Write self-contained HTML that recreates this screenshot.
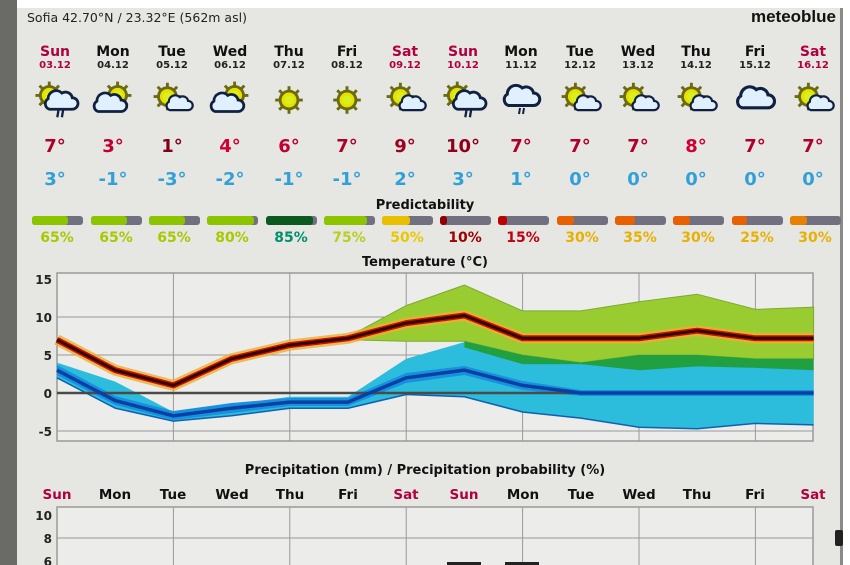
<!DOCTYPE html>
<html><head><meta charset="utf-8"><style>
html,body{margin:0;padding:0;background:#fff;}
svg{display:block;font-family:"DejaVu Sans","Liberation Sans",sans-serif;}
</style></head><body>
<svg width="850" height="565" viewBox="0 0 850 565" xmlns="http://www.w3.org/2000/svg">
<defs>
<g id="sun"><circle r="9" fill="#6a6a10"/><g stroke="#6a6a10" stroke-width="2.5"><line x1="-12" y1="0" x2="12" y2="0"/><line x1="0" y1="-12" x2="0" y2="12"/><line x1="-8.5" y1="-8.5" x2="8.5" y2="8.5"/><line x1="-8.5" y1="8.5" x2="8.5" y2="-8.5"/></g><circle r="6.5" fill="#e8e000"/><circle r="4" fill="#d8f020"/></g>
<g id="cloud"><path d="M-10,6 h20 a5,5 0 0 0 0,-10 a6,6 0 0 0 -9,-4 a7,7 0 0 0 -12,5 a5,5 0 0 0 1,9z" fill="#e0f0ff" stroke="#102040" stroke-width="2.4"/></g>
<g id="rain"><line x1="-2" y1="7" x2="-3" y2="13" stroke="#102040" stroke-width="2"/><line x1="2" y1="7" x2="1" y2="13" stroke="#102040" stroke-width="2"/></g>
<g id="sc0"><use href="#sun" transform="translate(-4,-3)"/><use href="#cloud" transform="translate(6,4) scale(0.8)"/></g>
<g id="sbc0"><use href="#sun" transform="translate(4,-4)"/><use href="#cloud" transform="translate(-3,4)"/></g>
<g id="scr0"><use href="#sun" transform="translate(-5,-4)"/><use href="#cloud" transform="translate(5,2)"/><use href="#rain" transform="translate(5,2)"/></g>
<g id="sc"><use href="#sc0" transform="scale(1.15)"/></g>
<g id="sbc"><use href="#sbc0" transform="scale(1.15)"/></g>
<g id="scr"><use href="#scr0" transform="scale(1.15)"/></g>
<g id="sunb"><use href="#sun" transform="scale(1.15)"/></g>
</defs>
<rect width="850" height="565" fill="#e6e6e2"/>
<rect width="850" height="8" fill="#fff"/>
<rect x="0" y="0" width="17" height="565" fill="#6a6a66"/>
<rect x="843" y="8" width="7" height="557" fill="#fff"/>
<rect x="840" y="8" width="3" height="557" fill="#8a8a86"/>
<text x="27" y="22" font-size="12.5" fill="#222">Sofia  42.70°N / 23.32°E (562m asl)</text>
<text x="836" y="22" font-size="17" font-weight="bold" fill="#111" text-anchor="end" font-family="Liberation Sans,sans-serif">meteoblue</text>

<g font-weight="bold" text-anchor="middle">
<g font-size="14">
<text x="55" y="56" fill="#b00040">Sun</text><text x="113" y="56" fill="#111">Mon</text><text x="172" y="56" fill="#111">Tue</text><text x="230" y="56" fill="#111">Wed</text><text x="289" y="56" fill="#111">Thu</text><text x="347" y="56" fill="#111">Fri</text><text x="405" y="56" fill="#b00040">Sat</text><text x="463" y="56" fill="#b00040">Sun</text><text x="521" y="56" fill="#111">Mon</text><text x="580" y="56" fill="#111">Tue</text><text x="638" y="56" fill="#111">Wed</text><text x="696" y="56" fill="#111">Thu</text><text x="755" y="56" fill="#111">Fri</text><text x="813" y="56" fill="#b00040">Sat</text>
</g>
<g font-size="10">
<text x="55" y="68" fill="#b00040">03.12</text><text x="113" y="68" fill="#222">04.12</text><text x="172" y="68" fill="#222">05.12</text><text x="230" y="68" fill="#222">06.12</text><text x="289" y="68" fill="#222">07.12</text><text x="347" y="68" fill="#222">08.12</text><text x="405" y="68" fill="#b00040">09.12</text><text x="463" y="68" fill="#b00040">10.12</text><text x="521" y="68" fill="#222">11.12</text><text x="580" y="68" fill="#222">12.12</text><text x="638" y="68" fill="#222">13.12</text><text x="696" y="68" fill="#222">14.12</text><text x="755" y="68" fill="#222">15.12</text><text x="813" y="68" fill="#b00040">16.12</text>
</g>
<g font-size="18">
<text x="55" y="152" fill="#b0002a">7°</text><text x="113" y="152" fill="#c00030">3°</text><text x="172" y="152" fill="#80001a">1°</text><text x="230" y="152" fill="#d00030">4°</text><text x="289" y="152" fill="#c00030">6°</text><text x="347" y="152" fill="#b0002a">7°</text><text x="405" y="152" fill="#a00020">9°</text><text x="463" y="152" fill="#90001c">10°</text><text x="521" y="152" fill="#b0002a">7°</text><text x="580" y="152" fill="#b0002a">7°</text><text x="638" y="152" fill="#b0002a">7°</text><text x="696" y="152" fill="#d00030">8°</text><text x="755" y="152" fill="#b0002a">7°</text><text x="813" y="152" fill="#b0002a">7°</text>
</g>
<g font-size="18" fill="#30a0d8">
<text x="55" y="185">3°</text><text x="113" y="185">-1°</text><text x="172" y="185">-3°</text><text x="230" y="185">-2°</text><text x="289" y="185">-1°</text><text x="347" y="185">-1°</text><text x="405" y="185">2°</text><text x="463" y="185">3°</text><text x="521" y="185">1°</text><text x="580" y="185">0°</text><text x="638" y="185">0°</text><text x="696" y="185">0°</text><text x="755" y="185">0°</text><text x="813" y="185">0°</text>
</g>
</g>

<use href="#scr" x="55" y="100"/>
<use href="#sbc" x="113" y="100"/>
<use href="#sc" x="172" y="100"/>
<use href="#sbc" x="230" y="100"/>
<use href="#sunb" x="289" y="100"/>
<use href="#sunb" x="347" y="100"/>
<use href="#sc" x="405" y="100"/>
<use href="#scr" x="463" y="100"/>
<g transform="translate(521,100)"><use href="#cloud" transform="translate(0,-2) scale(1.25)"/><use href="#rain" transform="translate(1,1)"/></g>
<use href="#sc" x="580" y="100"/>
<use href="#sc" x="638" y="100"/>
<use href="#sc" x="696" y="100"/>
<g transform="translate(755,100)"><use href="#cloud" transform="translate(0,0) scale(1.3)"/></g>
<use href="#sc" x="813" y="100"/>

<text x="425" y="209" font-size="13" font-weight="bold" text-anchor="middle" fill="#111">Predictability</text>
<g>
<rect x="32" y="216" width="51" height="9" rx="3" fill="#707080"/><rect x="32" y="216" width="36" height="9" rx="3" fill="#8cc400"/>
<rect x="91" y="216" width="51" height="9" rx="3" fill="#707080"/><rect x="91" y="216" width="36" height="9" rx="3" fill="#8cc400"/>
<rect x="149" y="216" width="51" height="9" rx="3" fill="#707080"/><rect x="149" y="216" width="36" height="9" rx="3" fill="#8cc400"/>
<rect x="207" y="216" width="51" height="9" rx="3" fill="#707080"/><rect x="207" y="216" width="47" height="9" rx="3" fill="#8cc400"/>
<rect x="266" y="216" width="51" height="9" rx="3" fill="#707080"/><rect x="266" y="216" width="47" height="9" rx="3" fill="#0a5a20"/>
<rect x="324" y="216" width="51" height="9" rx="3" fill="#707080"/><rect x="324" y="216" width="43" height="9" rx="3" fill="#8cc400"/>
<rect x="382" y="216" width="51" height="9" rx="3" fill="#707080"/><rect x="382" y="216" width="28" height="9" rx="3" fill="#e8c000"/>
<rect x="440" y="216" width="51" height="9" rx="3" fill="#707080"/><rect x="440" y="216" width="7" height="9" rx="3" fill="#900000"/>
<rect x="498" y="216" width="51" height="9" rx="3" fill="#707080"/><rect x="498" y="216" width="9" height="9" rx="3" fill="#c00000"/>
<rect x="557" y="216" width="51" height="9" rx="3" fill="#707080"/><rect x="557" y="216" width="17" height="9" rx="3" fill="#e86000"/>
<rect x="615" y="216" width="51" height="9" rx="3" fill="#707080"/><rect x="615" y="216" width="20" height="9" rx="3" fill="#e86000"/>
<rect x="673" y="216" width="51" height="9" rx="3" fill="#707080"/><rect x="673" y="216" width="17" height="9" rx="3" fill="#e86000"/>
<rect x="732" y="216" width="51" height="9" rx="3" fill="#707080"/><rect x="732" y="216" width="15" height="9" rx="3" fill="#e86000"/>
<rect x="790" y="216" width="51" height="9" rx="3" fill="#707080"/><rect x="790" y="216" width="17" height="9" rx="3" fill="#e88000"/>
</g>
<g font-size="14" font-weight="bold" text-anchor="middle">
<text x="57" y="242" fill="#a8c800">65%</text><text x="116" y="242" fill="#a8c800">65%</text><text x="174" y="242" fill="#a8c800">65%</text><text x="232" y="242" fill="#a8c800">80%</text><text x="291" y="242" fill="#00906a">85%</text><text x="349" y="242" fill="#b8d020">75%</text><text x="407" y="242" fill="#e8c800">50%</text><text x="465" y="242" fill="#a00000">10%</text><text x="523" y="242" fill="#c00010">15%</text><text x="582" y="242" fill="#e8b000">30%</text><text x="640" y="242" fill="#e8b000">35%</text><text x="698" y="242" fill="#e8b000">30%</text><text x="757" y="242" fill="#e8b000">25%</text><text x="815" y="242" fill="#e8b000">30%</text>
</g>

<text x="425" y="266" font-size="13" font-weight="bold" text-anchor="middle" fill="#111">Temperature (°C)</text>
<rect x="57" y="273" width="756" height="168" fill="#ececea" stroke="#9a9a98" stroke-width="1.5"/>
<g stroke="#999" stroke-width="1">
<line x1="57" y1="317" x2="813" y2="317"/><line x1="57" y1="355" x2="813" y2="355"/><line x1="57" y1="431" x2="813" y2="431"/>
<line x1="173.4" y1="273" x2="173.4" y2="441"/><line x1="289.8" y1="273" x2="289.8" y2="441"/><line x1="406.2" y1="273" x2="406.2" y2="441"/><line x1="522.6" y1="273" x2="522.6" y2="441"/><line x1="639" y1="273" x2="639" y2="441"/><line x1="755.4" y1="273" x2="755.4" y2="441"/>
</g>
<g font-size="12" font-weight="bold" fill="#222" text-anchor="end">
<text x="52" y="284">15</text><text x="52" y="322">10</text><text x="52" y="360">5</text><text x="52" y="398">0</text><text x="52" y="436">-5</text>
</g>
<polygon fill="#98cc30" stroke="#80a830" stroke-width="1" points="348,336.8 406.2,305.6 464.4,285.1 522.6,310.9 580.8,310.9 639,301.8 697.2,294.2 755.4,309.4 813.6,307.1 813.6,358.8 755.4,358.8 697.2,355 639,355 580.8,362.6 522.6,355 464.4,341.3 406.2,341.3 348,339.8"/>
<polygon fill="#2cbcdc" points="57,362.6 115.2,381.6 173.4,412 231.6,404.4 289.8,396.8 348,396.8 406.2,358.8 464.4,342.1 522.6,358.8 580.8,362.6 639,361.1 697.2,361.1 755.4,362.6 813.6,362.6 813.6,424.9 755.4,423.4 697.2,428.7 639,427.2 580.8,418.1 522.6,412 464.4,396.8 406.2,394.5 348,408.2 289.8,408.2 231.6,415.8 173.4,421.1 115.2,408.2 57,377.8"/>
<polyline fill="none" stroke="#1060b0" stroke-width="1.5" points="57,377.8 115.2,408.2 173.4,421.1 231.6,415.8 289.8,408.2 348,408.2 406.2,394.5 464.4,396.8 522.6,412 580.8,418.1 639,427.2 697.2,428.7 755.4,423.4 813.6,424.9"/>
<polygon fill="#20a040" points="464.4,341.3 522.6,355 580.8,362.6 639,355 697.2,355 755.4,358.8 813.6,358.8 813.6,370.2 755.4,367.9 697.2,366.4 639,370.2 580.8,364.1 522.6,364.1 464.4,347.4"/>
<polygon fill="#1890e0" points="57,365 115.2,396 173.4,411 231.6,403 289.8,398 348,398 406.2,373 464.4,366 522.6,381 580.8,390 813.6,390 813.6,396 580.8,396 522.6,390 464.4,375 406.2,383 348,406 289.8,406 231.6,413 173.4,420 115.2,405 57,375"/>
<line x1="57" y1="393" x2="813" y2="393" stroke="#4a4a48" stroke-width="2.5"/>
<polyline fill="none" stroke="#0a40a0" stroke-width="3.5" points="57,370.2 115.2,400.6 173.4,415.8 231.6,408.2 289.8,402.1 348,402.1 406.2,377.8 464.4,370.2 522.6,385.4 580.8,393 813.6,393"/>
<polyline fill="none" stroke="#e8b030" stroke-width="11" stroke-linejoin="round" opacity="0.8" points="57,339.8 115.2,370.2 173.4,385.4 231.6,358.8 289.8,345.1 348,338.3 406.2,323.1 464.4,315.5 522.6,338.3 580.8,338.3 639,338.3 697.2,330.7 755.4,338.3 813.6,338.3"/>
<polyline fill="none" stroke="#d01000" stroke-width="6" stroke-linejoin="round" points="57,339.8 115.2,370.2 173.4,385.4 231.6,358.8 289.8,345.1 348,338.3 406.2,323.1 464.4,315.5 522.6,338.3 580.8,338.3 639,338.3 697.2,330.7 755.4,338.3 813.6,338.3"/>
<polyline fill="none" stroke="#300000" stroke-width="3" stroke-linejoin="round" points="57,339.8 115.2,370.2 173.4,385.4 231.6,358.8 289.8,345.1 348,338.3 406.2,323.1 464.4,315.5 522.6,338.3 580.8,338.3 639,338.3 697.2,330.7 755.4,338.3 813.6,338.3"/>

<text x="425" y="474" font-size="13" font-weight="bold" text-anchor="middle" fill="#111">Precipitation (mm) / Precipitation probability (%)</text>
<g font-size="13.5" font-weight="bold" text-anchor="middle">
<text x="57" y="499" fill="#b00040">Sun</text><text x="115" y="499" fill="#111">Mon</text><text x="173" y="499" fill="#111">Tue</text><text x="232" y="499" fill="#111">Wed</text><text x="290" y="499" fill="#111">Thu</text><text x="348" y="499" fill="#111">Fri</text><text x="406" y="499" fill="#b00040">Sat</text><text x="464" y="499" fill="#b00040">Sun</text><text x="523" y="499" fill="#111">Mon</text><text x="581" y="499" fill="#111">Tue</text><text x="639" y="499" fill="#111">Wed</text><text x="697" y="499" fill="#111">Thu</text><text x="755" y="499" fill="#111">Fri</text><text x="813" y="499" fill="#b00040">Sat</text>
</g>
<rect x="57" y="507" width="756" height="70" fill="#ececea" stroke="#9a9a98" stroke-width="1.5"/>
<g stroke="#999" stroke-width="1">
<line x1="57" y1="538" x2="813" y2="538"/>
<line x1="173.4" y1="507" x2="173.4" y2="565"/><line x1="289.8" y1="507" x2="289.8" y2="565"/><line x1="406.2" y1="507" x2="406.2" y2="565"/><line x1="522.6" y1="507" x2="522.6" y2="565"/><line x1="639" y1="507" x2="639" y2="565"/><line x1="755.4" y1="507" x2="755.4" y2="565"/>
</g>
<g font-size="12" font-weight="bold" fill="#222" text-anchor="end">
<text x="52" y="520">10</text><text x="52" y="543">8</text><text x="52" y="566">6</text>
</g>
<rect x="447" y="562" width="34" height="4" fill="#222"/><rect x="505" y="562" width="34" height="4" fill="#222"/>
<rect x="835" y="530" width="8" height="16" rx="2" fill="#222"/>
</svg>
</body></html>
